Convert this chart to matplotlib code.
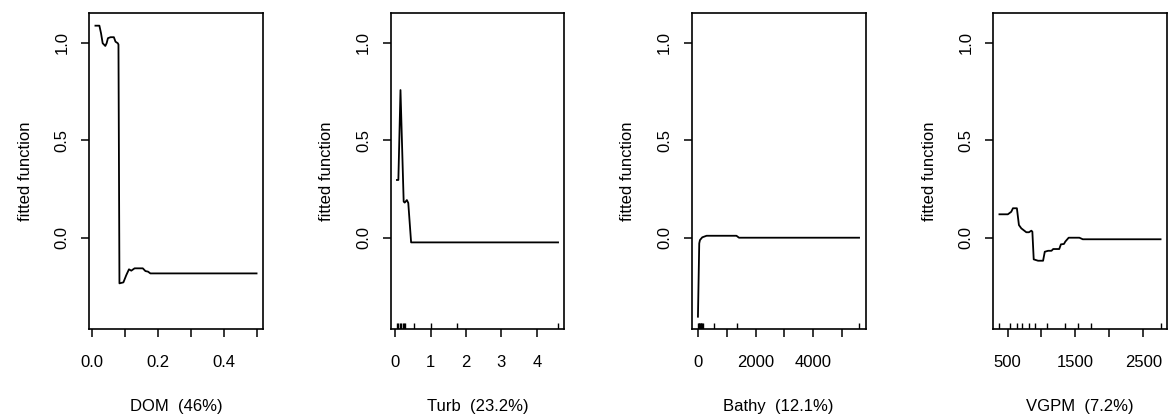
import matplotlib
matplotlib.use("Agg")
import matplotlib.pyplot as plt
import matplotlib.transforms as mtransforms

plt.rcParams["font.family"] = ["Liberation Sans", "DejaVu Sans"]
plt.rcParams["font.size"] = 12

# Partial dependence curves of the boosted regression tree
dom_x = [0.010, 0.022, 0.027, 0.032, 0.040, 0.044, 0.048, 0.056, 0.066, 0.071,
         0.078, 0.080, 0.083, 0.095, 0.104, 0.112, 0.119, 0.129, 0.154, 0.162,
         0.170, 0.177, 0.500]
dom_y = [1.087, 1.087, 1.048, 0.997, 0.983, 0.997, 1.023, 1.028, 1.028, 1.005,
         0.997, 0.990, -0.234, -0.229, -0.191, -0.162, -0.169, -0.157, -0.157, -0.171,
         -0.174, -0.183, -0.183]

turb_x = [0.05, 0.09, 0.15, 0.24, 0.27, 0.33, 0.37, 0.45, 4.60]
turb_y = [0.296, 0.296, 0.757, 0.185, 0.180, 0.193, 0.178, -0.024, -0.024]

bathy_x = [0, 45, 70, 150, 300, 1335, 1425, 5590]
bathy_y = [-0.405, -0.029, -0.012, 0.002, 0.010, 0.010, 0.000, 0.000]

vgpm_x = [381, 505, 555, 580, 638, 668, 703, 777, 816, 851, 866, 886, 950, 1024,
          1049, 1098, 1148, 1173, 1262, 1287, 1332, 1351, 1401, 1559, 1609, 2755]
vgpm_y = [0.120, 0.120, 0.133, 0.151, 0.151, 0.065, 0.048, 0.028, 0.028, 0.036,
          0.031, -0.111, -0.118, -0.118, -0.072, -0.067, -0.067, -0.058, -0.058,
          -0.034, -0.032, -0.020, 0.000, 0.000, -0.008, -0.008]

# Deciles of each predictor (rug marks)
dom_rug = []
turb_rug = [0.05, 0.09, 0.13, 0.17, 0.21, 0.25, 0.29, 0.52, 1.0, 1.75, 4.6]
bathy_rug = [0, 20, 45, 70, 95, 120, 150, 180, 557, 1345, 5590]
vgpm_rug = [381, 540, 638, 718, 816, 911, 1084, 1342, 1535, 1732, 2755]

x_labels = ["DOM  (46%)", "Turb  (23.2%)", "Bathy  (12.1%)", "VGPM  (7.2%)"]

dom_ticks = [0.0, 0.1, 0.2, 0.3, 0.4, 0.5]
dom_ticklabels = ["0.0", "", "0.2", "", "0.4", ""]
turb_ticks = [0, 1, 2, 3, 4]
turb_ticklabels = ["0", "1", "2", "3", "4"]
bathy_ticks = [0, 1000, 2000, 3000, 4000, 5000]
bathy_ticklabels = ["0", "", "2000", "", "4000", ""]
vgpm_ticks = [500, 1000, 1500, 2000, 2500]
vgpm_ticklabels = ["500", "", "1500", "", "2500"]

y_ticks = [0.0, 0.5, 1.0]
y_ticklabels = ["0.0", "0.5", "1.0"]
y_limits = (-0.468, 1.152)

panels = [
    (dom_x, dom_y, dom_rug, dom_ticks, dom_ticklabels),
    (turb_x, turb_y, turb_rug, turb_ticks, turb_ticklabels),
    (bathy_x, bathy_y, bathy_rug, bathy_ticks, bathy_ticklabels),
    (vgpm_x, vgpm_y, vgpm_rug, vgpm_ticks, vgpm_ticklabels),
]

W, H = 1170, 419
fig = plt.figure(figsize=(W / 100, H / 100), dpi=100)
lefts = [89, 390.5, 691.5, 993]
ax_w, ax_b, ax_h = 174, 90, 316

for (xs, ys, rug, ticks, ticklabels), left, xl in zip(panels, lefts, x_labels):
    ax = fig.add_axes([left / W, ax_b / H, ax_w / W, ax_h / H])
    ax.plot(xs, ys, color="black", lw=1.3, solid_joinstyle="round")
    lo, hi = min(xs), max(xs)
    pad = 0.04 * (hi - lo)
    ax.set_xlim(lo - pad, hi + pad)
    ax.set_ylim(*y_limits)
    if rug:
        trans = mtransforms.blended_transform_factory(ax.transData, ax.transAxes)
        ax.vlines(rug, 0, 0.019, transform=trans, color="black", lw=1.0)
    ax.set_xticks(ticks)
    ax.set_xticklabels(ticklabels)
    ax.set_yticks(y_ticks)
    ax.set_yticklabels(y_ticklabels, rotation=90, va="center")
    for s in ax.spines.values():
        s.set_linewidth(1.2)
    ax.tick_params(axis="both", direction="out", length=6, width=1.1,
                   labelsize=12)
    ax.tick_params(axis="x", pad=13)
    ax.tick_params(axis="y", pad=8)
    ax.set_xlabel(xl, fontsize=12)
    ax.xaxis.set_label_coords(0.5, -0.244)
    ax.xaxis.label.set_va("center")
    ax.set_ylabel("fitted function", fontsize=12)
    ax.yaxis.set_label_coords(-0.366, 0.5)
    ax.yaxis.label.set_va("center")

fig.savefig("out.png", dpi=100)
